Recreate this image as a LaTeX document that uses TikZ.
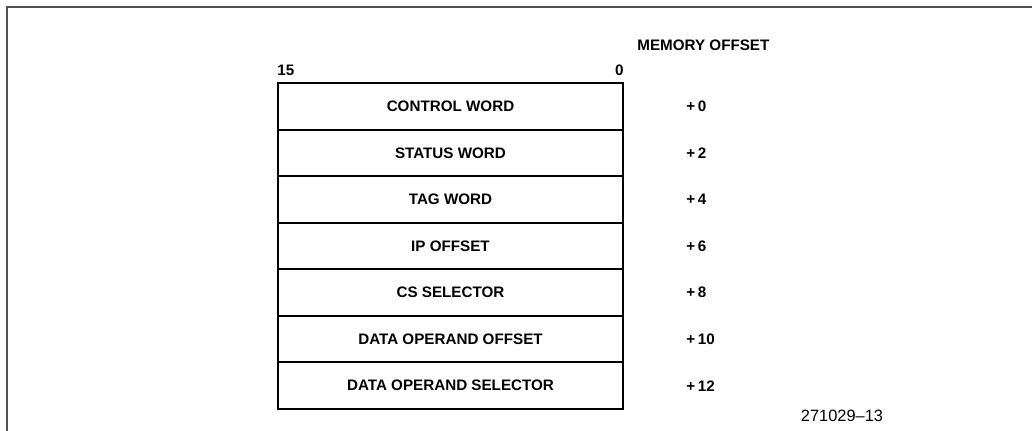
\documentclass[tikz,border=0pt]{standalone}
\usepackage{fontspec}
\setmainfont{Liberation Sans}
\begin{document}
\begin{tikzpicture}[x=0.5pt,y=-0.5pt,
  lbl/.style={font=\fontsize{7.6}{9}\selectfont\bfseries, inner sep=0pt},
  cell/.style={draw, line width=1pt, minimum width=172.5pt, minimum height=23.29pt, inner sep=0pt, font=\fontsize{7.6}{9}\selectfont\bfseries},
  frame/.style={draw=black!68, line width=0.6pt}]
\useasboundingbox (0,0) rectangle (1032,431);
\coordinate (fbl) at (7,431);
\coordinate (ftl) at (7,7);
\coordinate (ftr) at (1032,7);
\draw[frame] (fbl) -- (ftl) -- (ftr);
\def\rh{46.57}
\foreach \t/\o [count=\i from 0] in {CONTROL WORD/0, STATUS WORD/2, TAG WORD/4, IP OFFSET/6, CS SELECTOR/8, DATA OPERAND OFFSET/10, DATA OPERAND SELECTOR/12}{
  \node[cell] (r\i) at (450.5, {83+\rh*(\i+0.5)}) {\t};
  \node[lbl, anchor=west] (o\i) at (686, {83+\rh*(\i+0.5)}) {+\,\o};
}
\node[lbl, anchor=south west] (b15) at (r0.north west) [yshift=3pt] {15};
\node[lbl, anchor=south east] (b0) at (r0.north east) [yshift=3pt] {0};
\node[lbl, anchor=west] (mo) at (637,45) {MEMORY OFFSET};
\node[font=\fontsize{8.2}{9.5}\selectfont, inner sep=0pt] (fig) at (842,416) {271029--13};
\end{tikzpicture}
\end{document}
